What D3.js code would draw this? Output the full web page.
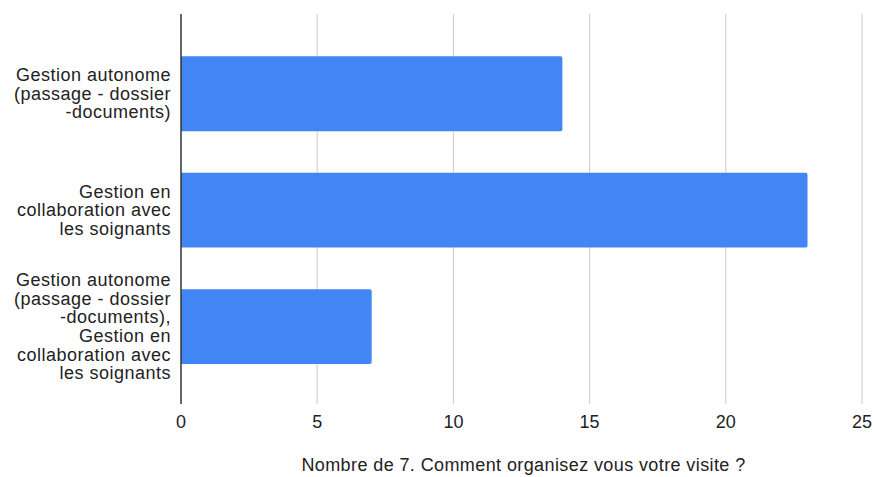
<!DOCTYPE html>
<html>
<head>
<meta charset="utf-8">
<script src="https://cdn.jsdelivr.net/npm/d3@7"></script>
<style>
  html, body { margin: 0; padding: 0; background: #fff; }
  svg { display: block; font-family: "Liberation Sans", Arial, sans-serif; }
</style>
</head>
<body>
<svg id="chart" width="874" height="477"></svg>
<script>
// Category labels, one array of lines per bar
const categories = [
  ["Gestion autonome", "(passage - dossier", "-documents)"],
  ["Gestion en", "collaboration avec", "les soignants"],
  ["Gestion autonome", "(passage - dossier", "-documents),", "Gestion en", "collaboration avec", "les soignants"]
];
const counts = [14, 23, 7];
const xTicks = [0, 5, 10, 15, 20, 25];
const axisTitle = "Nombre de 7. Comment organisez vous votre visite ?";

const svg = d3.select("#chart");
const plot = { left: 181, right: 862, top: 14, bottom: 404 };

const x = d3.scaleLinear().domain([0, 25]).range([plot.left, plot.right]);
const y = d3.scaleBand()
  .domain(d3.range(categories.length))
  .range([35.3, 385])
  .paddingInner(0.357)
  .paddingOuter(0.18);

// vertical gridlines
svg.append("g")
  .selectAll("line")
  .data(xTicks.filter(t => t !== 0))
  .join("line")
  .attr("x1", d => x(d)).attr("x2", d => x(d))
  .attr("y1", plot.top).attr("y2", plot.bottom)
  .attr("stroke", "#cccccc")
  .attr("stroke-width", 1);

// bars with slightly rounded right ends
const r = 2;
svg.append("g")
  .selectAll("path")
  .data(counts)
  .join("path")
  .attr("fill", "#4285f4")
  .attr("d", (d, i) => {
    const x0 = x(0), x1 = x(d), y0 = y(i), h = y.bandwidth();
    return `M${x0},${y0}H${x1 - r}Q${x1},${y0} ${x1},${y0 + r}` +
           `V${y0 + h - r}Q${x1},${y0 + h} ${x1 - r},${y0 + h}H${x0}Z`;
  });

// baseline axis line
svg.append("line")
  .attr("x1", x(0)).attr("x2", x(0))
  .attr("y1", plot.top).attr("y2", plot.bottom)
  .attr("stroke", "#333333")
  .attr("stroke-width", 1.5);

// x tick labels
svg.append("g")
  .selectAll("text")
  .data(xTicks)
  .join("text")
  .attr("x", d => x(d))
  .attr("y", 428)
  .attr("text-anchor", "middle")
  .attr("font-size", 18)
  .attr("fill", "#222")
  .text(d => d);

// category labels
const lineH = 18.6;
svg.append("g")
  .selectAll("text")
  .data(categories)
  .join("text")
  .attr("text-anchor", "end")
  .attr("font-size", 18)
  .attr("letter-spacing", 0.5)
  .attr("fill", "#222")
  .each(function (lines, i) {
    const cy = y(i) + y.bandwidth() / 2;
    const startY = cy - (lines.length - 1) * lineH / 2 + 6;
    d3.select(this).selectAll("tspan")
      .data(lines)
      .join("tspan")
      .attr("x", 171)
      .attr("y", (l, k) => startY + k * lineH)
      .text(l => l);
  });

// axis title
svg.append("text")
  .attr("x", (plot.left + plot.right) / 2 + 2)
  .attr("y", 471)
  .attr("text-anchor", "middle")
  .attr("font-size", 18)
  .attr("letter-spacing", 0.4)
  .attr("fill", "#222")
  .text(axisTitle);
</script>
</body>
</html>
